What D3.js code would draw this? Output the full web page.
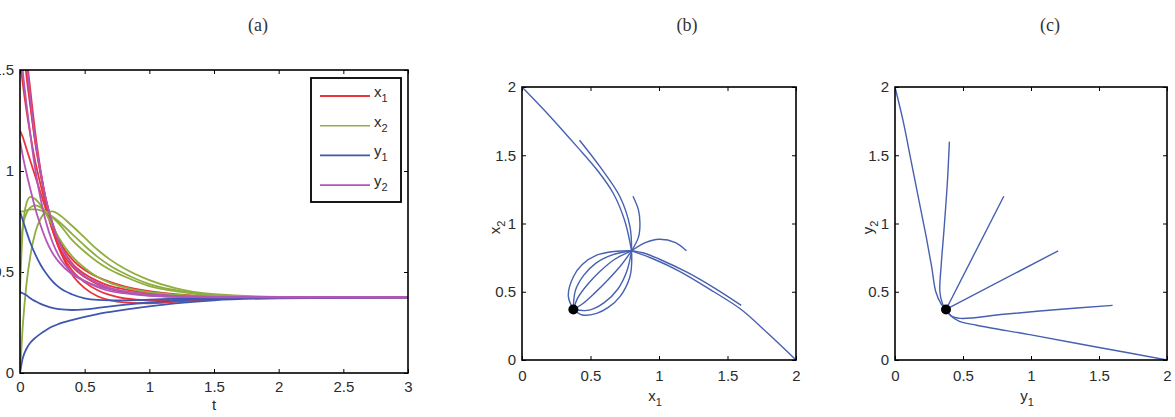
<!DOCTYPE html>
<html>
<head>
<meta charset="utf-8">
<script src="https://cdn.jsdelivr.net/npm/d3@7"></script>
<style>
  body { margin: 0; background: #fff; }
  svg { display: block; }
</style>
</head>
<body>
<div id="wrapper"></div>
<script>
// ---- data ----
// (a) time series, all sampled on the same time grid
const tGrid = [0, 0.02, 0.05, 0.08, 0.12, 0.16, 0.2, 0.25, 0.3, 0.4, 0.5, 0.6, 0.7, 0.8, 1.0, 1.2, 1.5, 2.0, 3.0]

const x1Runs = [
  [2.0, 1.82, 1.58, 1.40, 1.18, 1.00, 0.86, 0.74, 0.66, 0.565, 0.51, 0.475, 0.45, 0.43, 0.405, 0.39, 0.379, 0.375, 0.375],
  [2.0, 1.78, 1.52, 1.34, 1.14, 0.99, 0.86, 0.745, 0.655, 0.545, 0.49, 0.455, 0.43, 0.415, 0.395, 0.384, 0.377, 0.375, 0.375],
  [1.8, 1.66, 1.47, 1.32, 1.13, 0.98, 0.85, 0.72, 0.63, 0.53, 0.475, 0.44, 0.415, 0.40, 0.385, 0.378, 0.375, 0.375, 0.375],
  [1.55, 1.44, 1.30, 1.18, 1.04, 0.93, 0.83, 0.71, 0.62, 0.51, 0.45, 0.41, 0.385, 0.37, 0.36, 0.362, 0.37, 0.375, 0.375],
  [1.2, 1.17, 1.11, 1.05, 0.97, 0.89, 0.81, 0.71, 0.62, 0.49, 0.42, 0.38, 0.36, 0.35, 0.345, 0.352, 0.365, 0.373, 0.375]
]
const x2Runs = [
  [0.40, 0.70, 0.84, 0.872, 0.86, 0.83, 0.79, 0.73, 0.67, 0.58, 0.52, 0.475, 0.445, 0.425, 0.40, 0.388, 0.379, 0.376, 0.375],
  [0, 0.22, 0.44, 0.58, 0.70, 0.765, 0.795, 0.80, 0.785, 0.73, 0.67, 0.61, 0.56, 0.52, 0.46, 0.42, 0.39, 0.377, 0.375],
  [0.80, 0.80, 0.805, 0.81, 0.81, 0.805, 0.795, 0.775, 0.75, 0.69, 0.63, 0.575, 0.53, 0.495, 0.44, 0.41, 0.385, 0.376, 0.375],
  [0.6, 0.72, 0.79, 0.82, 0.83, 0.82, 0.80, 0.77, 0.74, 0.66, 0.60, 0.55, 0.51, 0.48, 0.43, 0.405, 0.384, 0.376, 0.375]
]
const y1Runs = [
  [0.8, 0.76, 0.70, 0.645, 0.585, 0.535, 0.495, 0.455, 0.425, 0.39, 0.37, 0.362, 0.36, 0.36, 0.363, 0.368, 0.372, 0.375, 0.375],
  [0.40, 0.395, 0.385, 0.37, 0.355, 0.342, 0.332, 0.322, 0.316, 0.312, 0.315, 0.322, 0.33, 0.337, 0.349, 0.358, 0.367, 0.373, 0.375],
  [0, 0.07, 0.12, 0.15, 0.175, 0.195, 0.212, 0.23, 0.243, 0.262, 0.278, 0.292, 0.303, 0.313, 0.33, 0.345, 0.36, 0.37, 0.375]
]
const y2Runs = [
  [1.15, 1.08, 0.99, 0.91, 0.81, 0.73, 0.66, 0.595, 0.55, 0.49, 0.455, 0.43, 0.415, 0.405, 0.39, 0.382, 0.377, 0.375, 0.375],
  [1.6, 1.5, 1.33, 1.18, 1.0, 0.86, 0.75, 0.65, 0.58, 0.50, 0.455, 0.425, 0.405, 0.395, 0.382, 0.377, 0.375, 0.375, 0.375],
  [2.0, 1.8, 1.55, 1.36, 1.15, 0.99, 0.86, 0.74, 0.65, 0.54, 0.48, 0.445, 0.42, 0.405, 0.387, 0.38, 0.376, 0.375, 0.375]
]

const legendNames = [["x", "1"], ["x", "2"], ["y", "1"], ["y", "2"]]
const seriesColors = ["#e8343c", "#8fae3f", "#3f57b0", "#b455b8"]

// (b) x1–x2 plane: approach to (0.8, 0.8), then arcs to the equilibrium
const bApproach = [
  [[0, 2], [0.2, 1.79], [0.4, 1.565], [0.55, 1.39], [0.667, 1.22], [0.75, 1.02], [0.8, 0.8]],
  [[0.42, 1.61], [0.569, 1.416], [0.715, 1.196], [0.788, 0.977], [0.8, 0.8]],
  [[0.81, 1.2], [0.85, 1.1], [0.861, 1.0], [0.85, 0.9], [0.8, 0.8]],
  [[1.2, 0.8], [1.12, 0.86], [1.0, 0.885], [0.9, 0.86], [0.8, 0.8]],
  [[1.6, 0.4], [1.4, 0.53], [1.2, 0.645], [1.0, 0.74], [0.9, 0.78], [0.8, 0.8]],
  [[2, 0], [1.8, 0.19], [1.6, 0.37], [1.4, 0.50], [1.15, 0.65], [0.96, 0.74], [0.8, 0.8]]
]
const bArcs = [
  [[0.8, 0.8], [0.67, 0.795], [0.545, 0.768], [0.44, 0.70], [0.375, 0.61], [0.338, 0.47], [0.375, 0.37]],
  [[0.8, 0.8], [0.66, 0.77], [0.54, 0.71], [0.45, 0.62], [0.39, 0.51], [0.375, 0.37]],
  [[0.8, 0.8], [0.68, 0.74], [0.57, 0.65], [0.48, 0.555], [0.41, 0.46], [0.375, 0.37]],
  [[0.8, 0.8], [0.72, 0.69], [0.63, 0.59], [0.53, 0.49], [0.44, 0.41], [0.375, 0.37]],
  [[0.8, 0.8], [0.765, 0.65], [0.7, 0.52], [0.6, 0.42], [0.49, 0.365], [0.375, 0.37]],
  [[0.8, 0.8], [0.8, 0.7], [0.788, 0.61], [0.715, 0.464], [0.63, 0.385], [0.545, 0.342], [0.44, 0.33], [0.375, 0.37]]
]

// (c) y1–y2 plane
const cPaths = [
  [[0, 2], [0.06, 1.75], [0.12, 1.45], [0.18, 1.15], [0.23, 0.9], [0.27, 0.68], [0.30, 0.5], [0.34, 0.41], [0.375, 0.37]],
  [[0.4, 1.6], [0.385, 1.3], [0.36, 0.95], [0.34, 0.7], [0.33, 0.5], [0.35, 0.41], [0.375, 0.37]],
  [[0.8, 1.2], [0.375, 0.37]],
  [[1.2, 0.8], [0.375, 0.37]],
  [[1.6, 0.4], [1.2, 0.37], [0.8, 0.335], [0.48, 0.305], [0.41, 0.325], [0.375, 0.37]],
  [[2, 0], [1.5, 0.092], [1.0, 0.184], [0.6, 0.255], [0.47, 0.285], [0.41, 0.325], [0.375, 0.37]]
]
const equilibrium = [0.375, 0.37]

const tTicks = [0, 0.5, 1, 1.5, 2, 2.5, 3]
const aValueTicks = [0, 0.5, 1, 1.5]
const phaseTicks = [0, 0.5, 1, 1.5, 2]
const panelTitles = ["(a)", "(b)", "(c)"]

// ---- drawing ----
const width = 1175
const height = 417
const font = "'Liberation Sans', Arial, sans-serif"
const fontSize = "15px"
const textColor = "#2b2b2b"

const wrapper = d3.select("#wrapper")
  .append("svg")
    .attr("width", width)
    .attr("height", height)

const panels = [
  { left: 20, top: 70, width: 388, height: 303, xDomain: [0, 3], yDomain: [0, 1.5], xTicks: tTicks, yTicks: aValueTicks, pad: 8, titleX: 258 },
  { left: 522, top: 87, width: 274, height: 273, xDomain: [0, 2], yDomain: [0, 2], xTicks: phaseTicks, yTicks: phaseTicks, pad: 10, titleX: 687 },
  { left: 895, top: 87, width: 272, height: 273, xDomain: [0, 2], yDomain: [0, 2], xTicks: phaseTicks, yTicks: phaseTicks, pad: 10, titleX: 1050 }
]

const fmt = d3.format("~g")

function setupPanel(p, i) {
  const g = wrapper.append("g")
    .attr("transform", `translate(${p.left},${p.top})`)
  p.g = g
  p.x = d3.scaleLinear().domain(p.xDomain).range([0, p.width])
  p.y = d3.scaleLinear().domain(p.yDomain).range([p.height, 0])

  g.append("clipPath").attr("id", "clip" + i)
    .append("rect").attr("width", p.width).attr("height", p.height)

  const styleAxis = sel => {
    sel.select(".domain").remove()
    sel.selectAll("line").attr("stroke", "#000").attr("stroke-width", 1)
    sel.selectAll("text").attr("fill", textColor)
      .style("font-family", font).style("font-size", fontSize)
  }

  g.append("g").attr("transform", `translate(0,${p.height})`)
    .call(d3.axisBottom(p.x).tickValues(p.xTicks).tickFormat(fmt).tickSizeInner(-4).tickSizeOuter(0).tickPadding(p.pad))
    .call(styleAxis)
  g.append("g")
    .call(d3.axisTop(p.x).tickValues(p.xTicks).tickFormat("").tickSizeInner(-4).tickSizeOuter(0))
    .call(styleAxis)
  g.append("g")
    .call(d3.axisLeft(p.y).tickValues(p.yTicks).tickFormat(fmt).tickSizeInner(-4).tickSizeOuter(0).tickPadding(6))
    .call(styleAxis)
  g.append("g").attr("transform", `translate(${p.width},0)`)
    .call(d3.axisRight(p.y).tickValues(p.yTicks).tickFormat("").tickSizeInner(-4).tickSizeOuter(0))
    .call(styleAxis)

  p.marks = g.append("g").attr("clip-path", `url(#clip${i})`)

  wrapper.append("text")
    .attr("x", p.titleX)
    .attr("y", 31)
    .attr("text-anchor", "middle")
    .attr("fill", "#333")
    .style("font-family", "'Liberation Serif', 'DejaVu Serif', serif")
    .style("font-size", "18px")
    .text(panelTitles[i])
}
panels.forEach(setupPanel)

function frame(p) {
  p.g.append("rect")
    .attr("width", p.width)
    .attr("height", p.height)
    .attr("fill", "none")
    .attr("stroke", "#000")
    .attr("stroke-width", 1.6)
}

function subLabel(sel, base, sub) {
  sel.style("font-family", font).style("font-size", fontSize).attr("fill", textColor)
  sel.append("tspan").text(base)
  sel.append("tspan").attr("dy", 5).style("font-size", "11px").text(sub)
}

// panel (a)
const pa = panels[0]
const timeLine = d3.line()
  .x((d, i) => pa.x(tGrid[i]))
  .y(d => pa.y(d))
  .curve(d3.curveMonotoneX)

const groupsA = [x1Runs, x2Runs, y1Runs, y2Runs]
groupsA.forEach((runs, k) => {
  pa.marks.selectAll(null)
    .data(runs)
    .join("path")
      .attr("d", timeLine)
      .attr("fill", "none")
      .attr("stroke", seriesColors[k])
      .attr("stroke-width", 1.8)
})
frame(pa)

pa.g.append("text")
  .attr("x", pa.x(1.5))
  .attr("y", pa.height + 37)
  .attr("text-anchor", "middle")
  .style("font-family", font).style("font-size", fontSize)
  .attr("fill", textColor)
  .text("t")

// legend
const legend = wrapper.append("g").attr("transform", "translate(311,78)")
legend.append("rect")
  .attr("width", 90).attr("height", 124)
  .attr("fill", "#fff").attr("stroke", "#000").attr("stroke-width", 1.8)
const legendRows = legend.selectAll("g.row")
  .data(legendNames)
  .join("g")
    .attr("class", "row")
    .attr("transform", (d, i) => `translate(0,${18 + i * 29.7})`)
legendRows.append("line")
  .attr("x1", 9).attr("x2", 59)
  .attr("stroke", (d, i) => seriesColors[i])
  .attr("stroke-width", (d, i) => i === 0 ? 2.2 : 1.6)
legendRows.append("text")
  .attr("x", 63).attr("y", 1)
  .each(function (d) { subLabel(d3.select(this), d[0], d[1]) })

// phase panels
function drawPhase(p, paths, xName, yName) {
  const line = d3.line()
    .x(d => p.x(d[0]))
    .y(d => p.y(d[1]))
    .curve(d3.curveCatmullRom.alpha(0.5))
  p.marks.selectAll(null)
    .data(paths)
    .join("path")
      .attr("d", line)
      .attr("fill", "none")
      .attr("stroke", "#4760b0")
      .attr("stroke-width", 1.4)
  p.marks.append("circle")
    .attr("cx", p.x(equilibrium[0]))
    .attr("cy", p.y(equilibrium[1]))
    .attr("r", 5)
    .attr("fill", "#000")
  frame(p)

  p.g.append("text")
    .attr("x", p.width / 2 - 4)
    .attr("y", p.height + 41)
    .attr("text-anchor", "middle")
    .call(subLabel, xName[0], xName[1])
  p.g.append("text")
    .attr("transform", `translate(-22,${p.height / 2 + 4}) rotate(-90)`)
    .attr("text-anchor", "middle")
    .call(subLabel, yName[0], yName[1])
}

drawPhase(panels[1], bApproach.concat(bArcs), ["x", "1"], ["x", "2"])
drawPhase(panels[2], cPaths, ["y", "1"], ["y", "2"])
</script>
</body>
</html>
